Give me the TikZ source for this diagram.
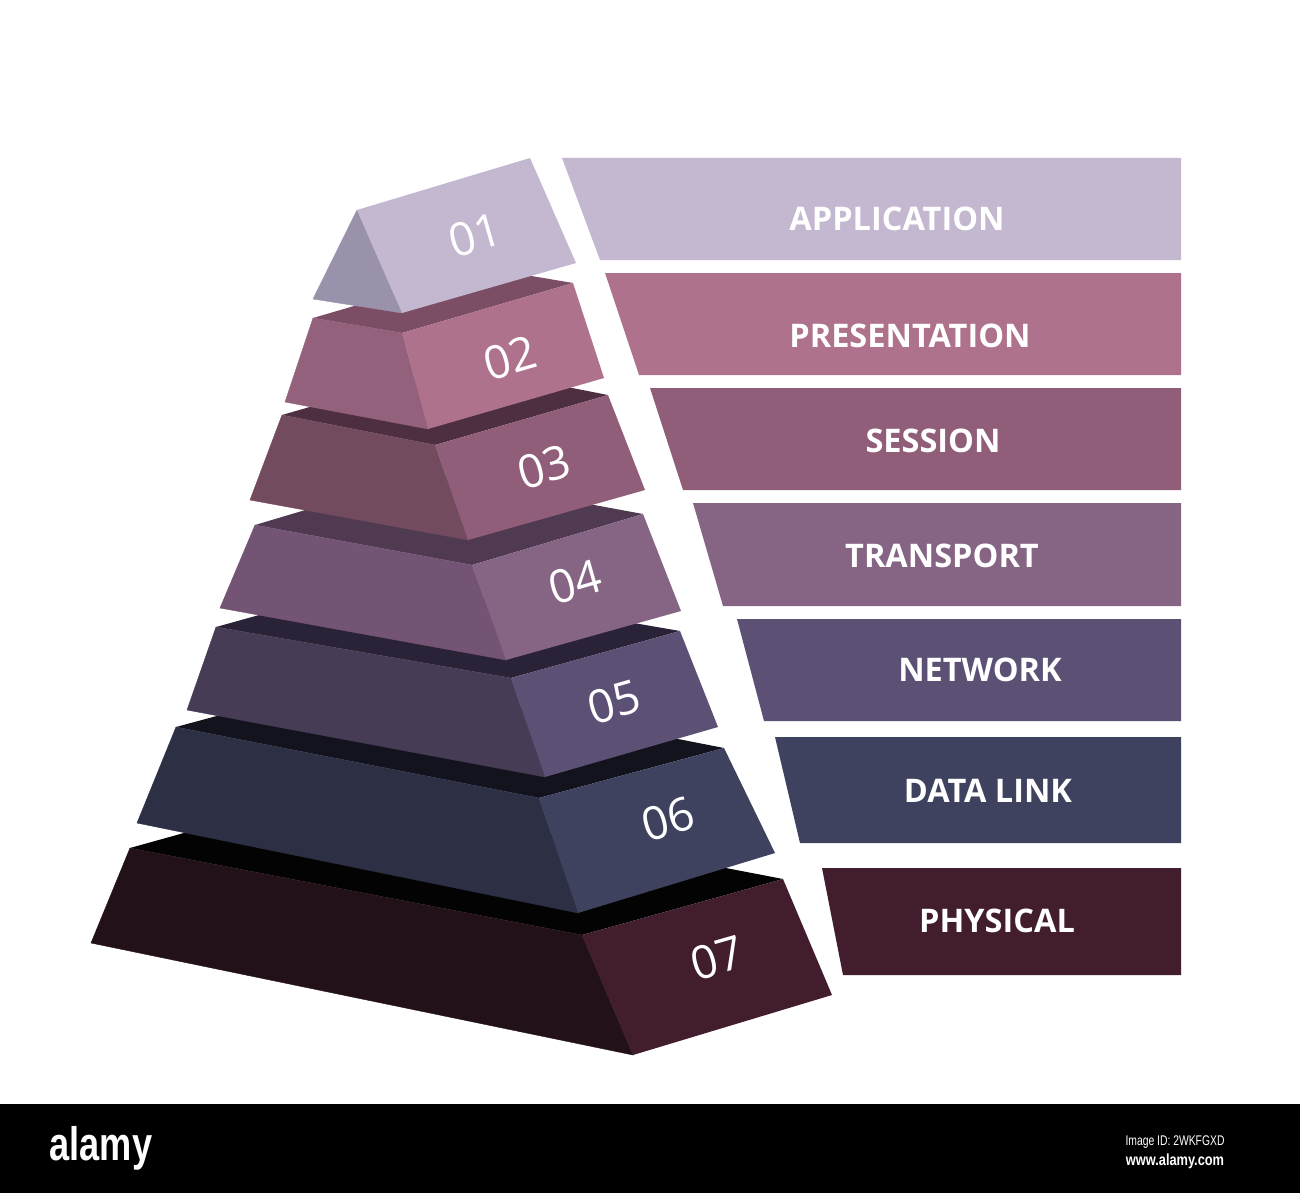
\documentclass[tikz,border=0pt]{standalone}
\usepackage{fontspec}
\usepackage{graphicx}
\setmainfont{Open Sans}
\newfontfamily\footfont{Liberation Sans}
\usetikzlibrary{calc}
\definecolor{rA}{HTML}{C4B7D0}\definecolor{lA}{HTML}{9A91AA}
\definecolor{rB}{HTML}{AF728C}\definecolor{lB}{HTML}{93617B}\definecolor{tB}{HTML}{7C4E65}
\definecolor{rC}{HTML}{915E79}\definecolor{lC}{HTML}{724B5E}\definecolor{tC}{HTML}{4E2F41}
\definecolor{rD}{HTML}{866483}\definecolor{lD}{HTML}{745474}\definecolor{tD}{HTML}{4F3A52}
\definecolor{rE}{HTML}{5C5174}\definecolor{lE}{HTML}{473C56}\definecolor{tE}{HTML}{2A2236}
\definecolor{rF}{HTML}{3E425F}\definecolor{lF}{HTML}{2D2F45}\definecolor{tF}{HTML}{12131C}
\definecolor{rG}{HTML}{411D2E}\definecolor{lG}{HTML}{221118}\definecolor{tG}{HTML}{030303}
\newcommand{\pyrlayer}[4]{%
  \fill[#2] (L#1t) -- (M#1t) -- (R#1t) -- ($(L#1t)+(R#1t)-(M#1t)$) -- cycle;
  \filldraw[#3, line width=0.4pt] (L#1t) -- (M#1t) -- (M#1b) -- (L#1b) -- cycle;
  \fill[#4] (M#1t) -- (R#1t) -- (R#1b) -- (M#1b) -- cycle;
}
\begin{document}
\begin{tikzpicture}[x=1pt,y=-1pt,
  barlabel/.style={text=white,font=\fontsize{32.5}{32.5}\selectfont\bfseries,inner sep=0pt},
  numlabel/.style={text=white,font=\fontsize{46}{46}\selectfont,inner sep=0pt,rotate=16}]
\useasboundingbox (0,0) rectangle (1300,1193);
\fill[white] (0,0) rectangle (1300,1193);

% ---- pyramid coordinates ----
\coordinate (A1) at (357,210); \coordinate (T1) at (530,158);
\coordinate (L1b) at (313,299); \coordinate (M1b) at (402,313); \coordinate (R1b) at (576,263);
\coordinate (L2t) at (313,318); \coordinate (M2t) at (402,333); \coordinate (R2t) at (573,283);
\coordinate (L2b) at (285,402); \coordinate (M2b) at (428,429); \coordinate (R2b) at (604,378);
\coordinate (L3t) at (282,415); \coordinate (M3t) at (435,445); \coordinate (R3t) at (608,395);
\coordinate (L3b) at (250,500); \coordinate (M3b) at (468,540); \coordinate (R3b) at (645,490);
\coordinate (L4t) at (255,525); \coordinate (M4t) at (472,565); \coordinate (R4t) at (643,514);
\coordinate (L4b) at (220,608); \coordinate (M4b) at (506,660); \coordinate (R4b) at (681,611);
\coordinate (L5t) at (216,627); \coordinate (M5t) at (511,678); \coordinate (R5t) at (680,631);
\coordinate (L5b) at (187,710); \coordinate (M5b) at (545,777); \coordinate (R5b) at (718,727);
\coordinate (L6t) at (176,727); \coordinate (M6t) at (539,798); \coordinate (R6t) at (724,748);
\coordinate (L6b) at (137,823); \coordinate (M6b) at (578,913); \coordinate (R6b) at (775,853);
\coordinate (L7t) at (130,848); \coordinate (M7t) at (582,935); \coordinate (R7t) at (783,879);
\coordinate (L7b) at (91,943);  \coordinate (M7b) at (633,1055); \coordinate (R7b) at (832,995);

% ---- layers, bottom to top ----
\pyrlayer{7}{tG}{lG}{rG}
\pyrlayer{6}{tF}{lF}{rF}
\pyrlayer{5}{tE}{lE}{rE}
\pyrlayer{4}{tD}{lD}{rD}
\pyrlayer{3}{tC}{lC}{rC}
\pyrlayer{2}{tB}{lB}{rB}
\filldraw[lA, line width=0.4pt] (A1) -- (L1b) -- (M1b) -- cycle;
\fill[rA] (A1) -- (T1) -- (R1b) -- (M1b) -- cycle;

% ---- numbers ----
\node[numlabel] (n1) at (475,235) {01};
\node[numlabel] (n2) at (510,358) {02};
\node[numlabel] (n3) at (544,467) {03};
\node[numlabel] (n4) at (575,582) {04};
\node[numlabel] (n5) at (614,702) {05};
\node[numlabel] (n6) at (668,819) {06};
\node[numlabel] (n7) at (717,958) {07};

% ---- bars ----
\fill[rA] (562,158) -- (1181,158) -- (1181,260) -- (600,260) -- cycle;
\fill[rB] (605,273) -- (1181,273) -- (1181,375) -- (639,375) -- cycle;
\fill[rC] (650,388) -- (1181,388) -- (1181,490) -- (683,490) -- cycle;
\fill[rD] (693,503) -- (1181,503) -- (1181,606) -- (723,606) -- cycle;
\fill[rE] (737,619) -- (1181,619) -- (1181,721) -- (764,721) -- cycle;
\fill[rF] (775,737) -- (1181,737) -- (1181,843) -- (800,843) -- cycle;
\fill[rG] (822,868) -- (1181,868) -- (1181,975) -- (843,975) -- cycle;

\node[barlabel] (b1) at (897,219) {APPLICATION};
\node[barlabel] (b2) at (910,336) {PRESENTATION};
\node[barlabel] (b3) at (933,441) {SESSION};
\node[barlabel] (b4) at (942,556) {TRANSPORT};
\node[barlabel] (b5) at (980,670) {NETWORK};
\node[barlabel] (b6) at (988,791) {DATA LINK};
\node[barlabel] (b7) at (997,921) {PHYSICAL};

% ---- footer ----
\fill[black] (0,1104) rectangle (1300,1193);
\node[text=white,inner sep=0pt,font=\footfont\fontsize{47}{47}\selectfont\bfseries] (logo) at (101,1148) {\scalebox{0.77}[1]{alamy}};
\node[text=white,inner sep=0pt,font=\footfont\fontsize{14}{14}\selectfont] (imgid) at (1175,1142) {\scalebox{0.74}[1]{Image ID: 2WKFGXD}};
\node[text=white,inner sep=0pt,font=\footfont\fontsize{16}{16}\selectfont\bfseries] (www) at (1175,1161) {\scalebox{0.8}[1]{www.alamy.com}};
\end{tikzpicture}
\end{document}
